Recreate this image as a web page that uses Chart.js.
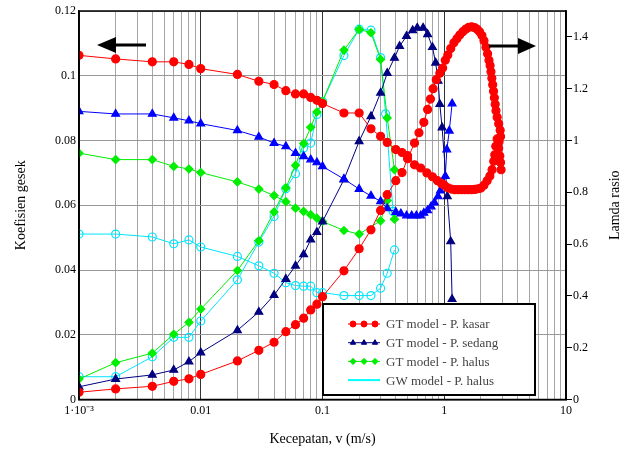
<!DOCTYPE html>
<html>
<head>
<meta charset="utf-8">
<script src="https://cdn.jsdelivr.net/npm/chart.js@4.4.1/dist/chart.umd.min.js"></script>
<style>
  html, body { margin: 0; padding: 0; background: #fff; }
</style>
</head>
<body>
<canvas id="frictionChart" width="635" height="453"></canvas>
<script>
// GT model - P. kasar
const vKasarF = [0.001, 0.002, 0.004, 0.006, 0.008, 0.01, 0.02, 0.03, 0.04, 0.05, 0.06, 0.07, 0.08, 0.09, 0.1,
  0.15, 0.2, 0.25, 0.3, 0.34, 0.4, 0.45, 0.5, 0.57, 0.64, 0.72, 0.8, 0.88, 0.95, 1.0, 1.07, 1.14, 1.22, 1.3,
  1.39, 1.48, 1.58, 1.68, 1.79, 1.9, 2.0, 2.12, 2.25, 2.37, 2.47, 2.55, 2.6, 2.65, 2.72];
const fKasar = [0.1063, 0.1052, 0.1043, 0.1043, 0.1035, 0.1022, 0.1004, 0.0983, 0.0973, 0.0954, 0.0944, 0.0944,
  0.0933, 0.0924, 0.0914, 0.0885, 0.0885, 0.0836, 0.0813, 0.0794, 0.0772, 0.0763, 0.0753, 0.0725, 0.0715, 0.0700,
  0.0688, 0.0676, 0.0667, 0.0662, 0.0654, 0.0650, 0.0648, 0.0648, 0.0648, 0.0648, 0.0648, 0.0648, 0.0649, 0.0651,
  0.0653, 0.0662, 0.0676, 0.0690, 0.0710, 0.0736, 0.0756, 0.0782, 0.0805];
const vKasarL = [0.001, 0.002, 0.004, 0.006, 0.008, 0.01, 0.02, 0.03, 0.04, 0.05, 0.06, 0.07, 0.08, 0.09, 0.1,
  0.15, 0.2, 0.25, 0.3, 0.34, 0.4, 0.45, 0.5, 0.57, 0.62, 0.68, 0.73, 0.77, 0.81, 0.86, 0.92, 0.97, 1.02, 1.07,
  1.13, 1.2, 1.27, 1.34, 1.42, 1.5, 1.59, 1.68, 1.77, 1.86, 1.95, 2.04, 2.12, 2.2, 2.27, 2.33, 2.38, 2.42, 2.46,
  2.5, 2.54, 2.58, 2.62, 2.66, 2.72, 2.8, 2.88, 2.9, 2.82, 2.8, 2.86, 2.9, 2.93];
const lamKasar = [0.028, 0.041, 0.051, 0.070, 0.080, 0.097, 0.149, 0.190, 0.221, 0.262, 0.289, 0.314, 0.346, 0.368,
  0.397, 0.497, 0.582, 0.655, 0.730, 0.791, 0.845, 0.876, 0.93, 0.99, 1.03, 1.07, 1.12, 1.16, 1.20, 1.235, 1.26,
  1.28, 1.31, 1.33, 1.355, 1.377, 1.393, 1.407, 1.42, 1.43, 1.437, 1.439, 1.436, 1.43, 1.42, 1.405, 1.385, 1.36,
  1.335, 1.31, 1.29, 1.265, 1.24, 1.215, 1.19, 1.165, 1.14, 1.115, 1.09, 1.065, 1.04, 1.015, 0.995, 0.97, 0.94,
  0.915, 0.887];

// GT model - P. sedang
const vSedangF = [0.001, 0.002, 0.004, 0.006, 0.008, 0.01, 0.02, 0.03, 0.04, 0.05, 0.06, 0.07, 0.08, 0.09, 0.1,
  0.15, 0.2, 0.25, 0.3, 0.34, 0.4, 0.44, 0.49, 0.54, 0.59, 0.64, 0.68, 0.73, 0.78, 0.83, 0.89, 0.93, 0.98, 1.02,
  1.05, 1.1, 1.16];
const fSedang = [0.0890, 0.0882, 0.0882, 0.0870, 0.0861, 0.0852, 0.0831, 0.0811, 0.0792, 0.0782, 0.0761, 0.0751,
  0.0741, 0.0732, 0.0720, 0.0681, 0.0650, 0.0629, 0.0612, 0.0590, 0.0579, 0.0574, 0.0568, 0.0568, 0.0568, 0.0568,
  0.0576, 0.0584, 0.0596, 0.0608, 0.0627, 0.0645, 0.0665, 0.0690, 0.0772, 0.0830, 0.0914];
const vSedangL = [0.001, 0.002, 0.004, 0.006, 0.008, 0.01, 0.02, 0.03, 0.04, 0.05, 0.06, 0.07, 0.08, 0.09, 0.1,
  0.15, 0.2, 0.25, 0.3, 0.34, 0.39, 0.43, 0.49, 0.55, 0.6, 0.67, 0.73, 0.8, 0.85, 0.89, 0.92, 0.96, 1.06, 1.13, 1.16];
const lamSedang = [0.049, 0.079, 0.095, 0.114, 0.146, 0.181, 0.267, 0.338, 0.403, 0.465, 0.516, 0.560, 0.617,
  0.646, 0.687, 0.849, 0.997, 1.093, 1.184, 1.26, 1.319, 1.364, 1.403, 1.425, 1.435, 1.435, 1.41, 1.36, 1.30,
  1.23, 1.14, 1.05, 0.784, 0.61, 0.387];

// GT model - P. halus
const vHalusF = [0.001, 0.002, 0.004, 0.006, 0.008, 0.01, 0.02, 0.03, 0.04, 0.05, 0.06, 0.07, 0.08, 0.09, 0.1,
  0.15, 0.2, 0.3, 0.34, 0.39];
const fHalus = [0.0761, 0.0741, 0.0741, 0.0720, 0.0712, 0.0701, 0.0672, 0.0650, 0.0630, 0.0611, 0.0591, 0.0581,
  0.0571, 0.0560, 0.0550, 0.0522, 0.0511, 0.0552, 0.0615, 0.0557];
const vHalusL = [0.001, 0.002, 0.004, 0.006, 0.008, 0.01, 0.02, 0.03, 0.04, 0.05, 0.06, 0.07, 0.08, 0.09, 0.1,
  0.15, 0.2, 0.25, 0.3, 0.34, 0.39];
const lamHalus = [0.079, 0.142, 0.179, 0.252, 0.298, 0.349, 0.498, 0.613, 0.724, 0.817, 0.904, 0.988, 1.051,
  1.110, 1.151, 1.349, 1.429, 1.416, 1.313, 1.087, 0.887];

// GW model - P. halus
const vGwF = [0.001, 0.002, 0.004, 0.006, 0.008, 0.01, 0.02, 0.03, 0.04, 0.05, 0.06, 0.07, 0.08, 0.09, 0.1,
  0.15, 0.2, 0.25, 0.3, 0.34, 0.39];
const fGw = [0.0511, 0.0511, 0.0502, 0.0481, 0.0493, 0.0471, 0.0442, 0.0413, 0.0390, 0.0361, 0.0352, 0.0350,
  0.0350, 0.0330, 0.0330, 0.0321, 0.0321, 0.0321, 0.0344, 0.0390, 0.0462];
const vGwL = [0.001, 0.002, 0.004, 0.006, 0.008, 0.01, 0.02, 0.03, 0.04, 0.05, 0.06, 0.07, 0.08, 0.09, 0.1,
  0.15, 0.2, 0.25, 0.3, 0.33, 0.38];
const lamGw = [0.088, 0.088, 0.165, 0.240, 0.240, 0.303, 0.462, 0.608, 0.707, 0.814, 0.872, 0.971, 0.990, 1.10,
  1.151, 1.328, 1.43, 1.426, 1.32, 1.103, 0.726];

const xDecades = [0.001, 0.01, 0.1, 1, 10];
const xDecadeLabels = ['1·10⁻³', '0.01', '0.1', '1', '10'];
const leftTicks = [0, 0.02, 0.04, 0.06, 0.08, 0.1, 0.12];
const rightTicks = [0, 0.2, 0.4, 0.6, 0.8, 1, 1.2, 1.4];

const legendItems = [
  { text: 'GT model - P. kasar', color: '#ff0000', style: 'circle' },
  { text: 'GT model - P. sedang', color: '#000080', style: 'triangle' },
  { text: 'GT model - P. halus', color: '#00ee00', style: 'rectRot' },
  { text: 'GW model - P. halus', color: '#00ffff', style: 'none' }
];

const pts = (xs, ys) => xs.map((x, i) => ({ x: x, y: ys[i] }));

function series(xs, ys, axis, color, style, fill, radius) {
  return {
    data: pts(xs, ys),
    yAxisID: axis,
    borderColor: color,
    borderWidth: 1,
    pointStyle: style,
    pointRadius: radius,
    pointBackgroundColor: fill,
    pointBorderColor: color,
    pointBorderWidth: 1.2,
    tension: 0
  };
}

const isDecade = v => Math.abs(Math.log10(v) - Math.round(Math.log10(v))) < 1e-9;

// all the log grid lines: 1..9 in each decade
const xGrid = [];
for (let e = -3; e < 1; e++) {
  for (let m = 1; m < 10; m++) xGrid.push(+(m * Math.pow(10, e)).toPrecision(3));
}
xGrid.push(10);

const serif = '"Liberation Serif", "Times New Roman", serif';
Chart.defaults.font.family = serif;
Chart.defaults.color = '#000';

const extras = {
  id: 'extras',
  afterDatasetsDraw(chart) {
    const ctx = chart.ctx;
    const a = chart.chartArea;
    ctx.save();
    // frame
    ctx.strokeStyle = '#000';
    ctx.lineWidth = 1.5;
    ctx.strokeRect(a.left, a.top, a.right - a.left, a.bottom - a.top);

    // arrows
    ctx.fillStyle = '#000';
    ctx.lineWidth = 3;
    ctx.beginPath(); ctx.moveTo(146, 45); ctx.lineTo(112, 45); ctx.stroke();
    ctx.beginPath(); ctx.moveTo(97, 45); ctx.lineTo(116, 37); ctx.lineTo(116, 53); ctx.closePath(); ctx.fill();
    ctx.beginPath(); ctx.moveTo(489, 46); ctx.lineTo(522, 46); ctx.stroke();
    ctx.beginPath(); ctx.moveTo(536, 46); ctx.lineTo(518, 38); ctx.lineTo(518, 54); ctx.closePath(); ctx.fill();

    // legend box
    const bx = 323, by = 304, bw = 212, bh = 91;
    ctx.fillStyle = '#fff';
    ctx.fillRect(bx, by, bw, bh);
    ctx.lineWidth = 2;
    ctx.strokeRect(bx, by, bw, bh);
    ctx.font = '13px ' + serif;
    ctx.textBaseline = 'middle';
    legendItems.forEach((it, i) => {
      const y = 324 + i * 18.7;
      ctx.strokeStyle = it.color;
      ctx.lineWidth = it.style === 'none' ? 2 : 1;
      ctx.beginPath(); ctx.moveTo(348, y); ctx.lineTo(380, y); ctx.stroke();
      if (it.style !== 'none') {
        [353, 364, 375].forEach(px => {
          Chart.helpers.drawPoint(ctx, { pointStyle: it.style, radius: 3, borderWidth: 1 }, px, y);
          ctx.fillStyle = it.color;
          ctx.fill();
        });
      }
      ctx.fillStyle = '#444';
      ctx.fillText(it.text, 386, y + 1);
    });

    // right axis title
    ctx.fillStyle = '#000';
    ctx.font = '14px ' + serif;
    ctx.textAlign = 'center';
    ctx.translate(615, (a.top + a.bottom) / 2);
    ctx.rotate(-Math.PI / 2);
    ctx.fillText('Lamda rasio', 0, 0);
    ctx.restore();
  }
};

new Chart(document.getElementById('frictionChart'), {
  type: 'line',
  data: {
    datasets: [
      series(vKasarF, fKasar, 'yL', '#ff0000', 'circle', '#ff0000', 4),
      series(vKasarL, lamKasar, 'yR', '#ff0000', 'circle', '#ff0000', 4),
      series(vSedangF, fSedang, 'yL', '#0000ff', 'triangle', '#0000ff', 4.5),
      series(vSedangL, lamSedang, 'yR', '#000080', 'triangle', '#000080', 4.5),
      series(vHalusF, fHalus, 'yL', '#00ee00', 'rectRot', '#00ee00', 4),
      series(vHalusL, lamHalus, 'yR', '#00ee00', 'rectRot', '#00ee00', 4),
      series(vGwF, fGw, 'yL', '#00e5ff', 'circle', 'rgba(255,255,255,0)', 4),
      series(vGwL, lamGw, 'yR', '#00e5ff', 'circle', 'rgba(255,255,255,0)', 4)
    ]
  },
  options: {
    responsive: false,
    animation: false,
    layout: { padding: { top: 11, left: 0, right: 0, bottom: 0 } },
    plugins: {
      legend: { display: false },
      tooltip: { enabled: false }
    },
    scales: {
      x: {
        type: 'logarithmic',
        position: 'bottom',
        min: 0.001,
        max: 10,
        afterBuildTicks: axis => { axis.ticks = xGrid.map(v => ({ value: v })); },
        afterFit: axis => { axis.height = 53.5; },
        ticks: {
          autoSkip: false,
          maxRotation: 0,
          padding: 4,
          font: { size: 12 },
          callback: v => {
            const k = xDecades.findIndex(d => Math.abs(d - v) < d * 1e-6);
            return k >= 0 ? xDecadeLabels[k] : '';
          }
        },
        grid: {
          drawTicks: false,
          color: c => (c.tick && isDecade(c.tick.value)) ? '#333' : '#a6a6a6',
          lineWidth: 1
        },
        border: { color: '#000', width: 1.5 },
        title: {
          display: true,
          text: 'Kecepatan, v (m/s)',
          font: { size: 14 },
          padding: { bottom: 5 }
        }
      },
      yL: {
        type: 'linear',
        position: 'left',
        min: 0,
        max: 0.12,
        afterBuildTicks: axis => { axis.ticks = leftTicks.map(v => ({ value: v })); },
        afterFit: axis => { axis.width = 79; },
        ticks: {
          padding: 3,
          font: { size: 12 },
          callback: v => String(+v.toFixed(2))
        },
        grid: { drawTicks: false, color: '#999', lineWidth: 1 },
        border: { color: '#000', width: 1.5 },
        title: {
          display: true,
          text: 'Koefisien gesek',
          font: { size: 14 },
          padding: { top: 13 }
        }
      },
      yR: {
        type: 'linear',
        position: 'right',
        min: 0,
        max: 1.5,
        afterBuildTicks: axis => { axis.ticks = rightTicks.map(v => ({ value: v })); },
        afterFit: axis => { axis.width = 69; },
        ticks: {
          padding: 1,
          font: { size: 12 },
          callback: v => String(+v.toFixed(1))
        },
        grid: { drawOnChartArea: false, tickLength: 6, color: '#000' },
        border: { color: '#000', width: 1.5 }
      }
    }
  },
  plugins: [extras]
});
</script>
</body>
</html>
